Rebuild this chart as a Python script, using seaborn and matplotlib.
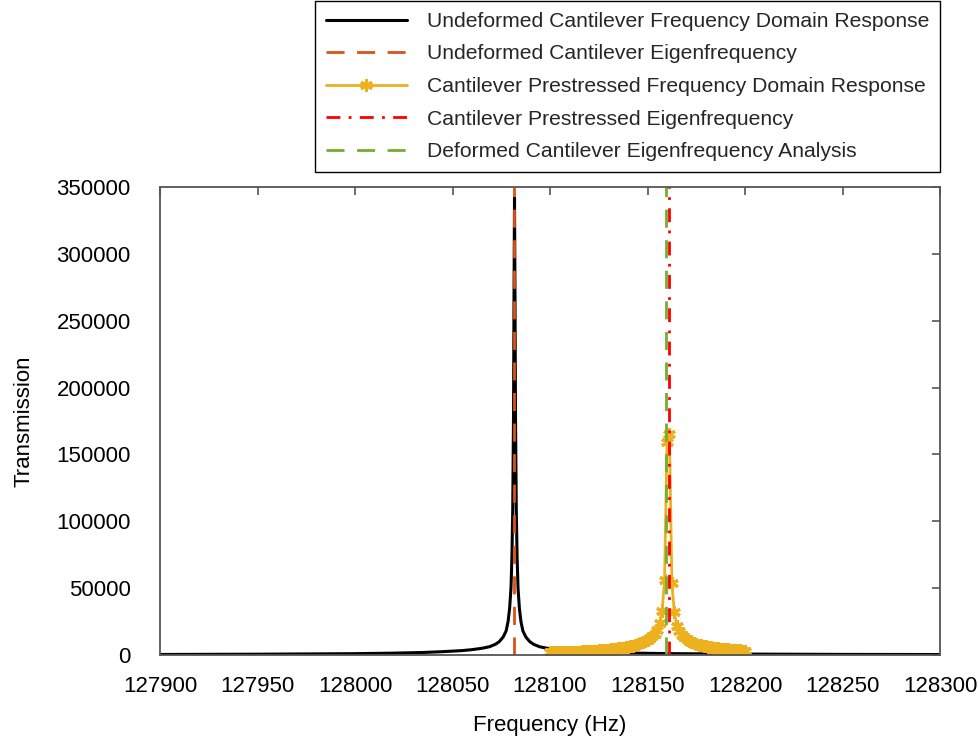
import numpy as np
import matplotlib
matplotlib.use("Agg")
import matplotlib.pyplot as plt
import seaborn as sns

# ---- data ----
undeformed_freq = [127900, 127950, 128000, 128020, 128035, 128045, 128055, 128060,
                   128065, 128069, 128072, 128074, 128076, 128077.5, 128078.5,
                   128079.3, 128080, 128080.5, 128080.9, 128081.3, 128081.55, 128081.8,
                   128082.05, 128082.3, 128082.7, 128083.1, 128083.6, 128084.3,
                   128085.1, 128086.1, 128087.6, 128089.6, 128091.6, 128094.6,
                   128098.6, 128103.6, 128108.6, 128118.6, 128128.6, 128143.6,
                   128163.6, 128200, 128250, 128300]
undeformed_resp = [400, 600, 1000, 1400, 1900, 2500, 3300, 4000,
                   5000, 6200, 8000, 10000, 13500, 18000, 25000,
                   35000, 50000, 75000, 110000, 180000, 270000, 342000,
                   270000, 180000, 110000, 75000, 50000, 35000,
                   25000, 18000, 13500, 10000, 8000, 6200,
                   5000, 4000, 3300, 2500, 1900, 1400,
                   1000, 700, 450, 350]

prestressed_freq = list(np.linspace(128100, 128200, 81))
prestressed_resp = [1900, 1950, 2000, 2050, 2100, 2150, 2200, 2250, 2300, 2400,
                    2450, 2550, 2600, 2700, 2800, 2900, 3000, 3100, 3200, 3350,
                    3500, 3650, 3800, 3950, 4100, 4300, 4500, 4700, 4950, 5200,
                    5500, 5800, 6200, 6600, 7000, 7500, 8100, 8800, 9500, 10400,
                    11400, 12500, 14000, 16000, 19000, 24000, 33000, 56000, 159000, 165000,
                    54000, 32000, 22000, 18000, 15000, 13200, 11800, 10700, 9800, 9000,
                    8400, 7800, 7300, 6900, 6500, 6100, 5800, 5500, 5200, 5000,
                    4800, 4600, 4400, 4200, 4000, 3850, 3700, 3550, 3400, 3300,
                    3200]

undeformed_eigen = 128081.7
prestressed_eigen = 128160.9
deformed_eigen = 128159.5

labels = ["Undeformed Cantilever Frequency Domain Response",
          "Undeformed Cantilever Eigenfrequency",
          "Cantilever Prestressed Frequency Domain Response",
          "Cantilever Prestressed Eigenfrequency",
          "Deformed Cantilever Eigenfrequency Analysis"]

x_ticks = [127900, 127950, 128000, 128050, 128100, 128150, 128200, 128250, 128300]
y_ticks = [0, 50000, 100000, 150000, 200000, 250000, 300000, 350000]

# ---- style ----
sns.set_theme(style="white")
plt.rcParams['font.family'] = ['Liberation Sans', 'DejaVu Sans']
plt.rcParams['lines.scale_dashes'] = False

W, H = 979, 738
fig = plt.figure(figsize=(W / 100, H / 100), dpi=100)
ax = fig.add_axes([160 / W, 1 - 655 / H, 780 / W, 468 / H])

sns.lineplot(x=undeformed_freq, y=undeformed_resp, ax=ax, color='black', lw=2.2,
             estimator=None, sort=False, label=labels[0])
ax.axvline(undeformed_eigen, color='#D95319', lw=2.0, ls=(0, (13, 9)), label=labels[1])
sns.lineplot(x=prestressed_freq, y=prestressed_resp, ax=ax, color='#EDB120', lw=2.0,
             estimator=None, sort=False, marker=(6, 2, 0), markersize=9,
             markeredgecolor='#EDB120', markeredgewidth=2.2, label=labels[2])
ax.axvline(prestressed_eigen, color='#FF0000', lw=2.0, ls=(0, (10, 6, 2, 6)), label=labels[3])
ax.axvline(deformed_eigen, color='#77AC30', lw=2.0, ls=(0, (13, 9)), label=labels[4])

ax.set_xlim(127900, 128300)
ax.set_ylim(0, 350000)
ax.set_xticks(x_ticks)
ax.set_xticklabels([str(v) for v in x_ticks])
ax.set_yticks(y_ticks)
ax.set_yticklabels([str(v) for v in y_ticks])
ax.tick_params(direction='in', length=6, width=1.2, color='#555555',
               top=True, right=True, labelsize=16, labelcolor='black')
ax.tick_params(axis='x', pad=15)
ax.tick_params(axis='y', pad=21)
for s in ax.spines.values():
    s.set_color('#555555')
    s.set_linewidth(1.3)

ax.set_xlabel("Frequency (Hz)", fontsize=16, labelpad=13, color='black')
ax.set_ylabel("Transmission", fontsize=16, labelpad=16, color='black')

handles, labs = ax.get_legend_handles_labels()
if ax.get_legend() is not None:
    ax.get_legend().remove()
leg = fig.legend(handles, labs, loc='upper right', bbox_to_anchor=(940 / W, 1 - 1 / H),
                 frameon=True, fancybox=False, edgecolor='black', fontsize=15.2,
                 handlelength=3.8, handletextpad=0.95, labelspacing=0.64,
                 borderpad=0.52, borderaxespad=0, numpoints=1, framealpha=1)
leg.get_frame().set_linewidth(1.0)

fig.savefig("out.png", dpi=100)
